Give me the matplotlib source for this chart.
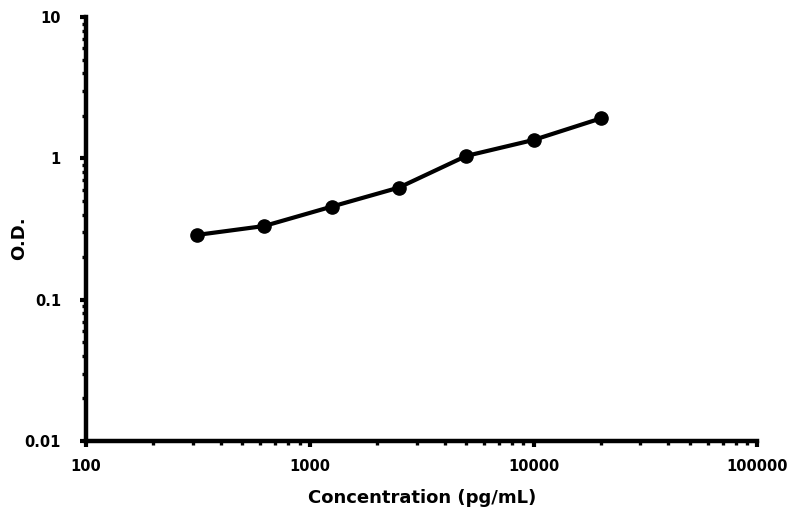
import matplotlib
matplotlib.use("Agg")
import matplotlib.pyplot as plt
from matplotlib.ticker import LogLocator, FixedLocator, NullFormatter

concentration = [312.5, 625, 1250, 2500, 5000, 10000, 20000]
od = [0.287, 0.332, 0.455, 0.621, 1.04, 1.35, 1.92]
x_ticks = [100, 1000, 10000, 100000]
x_tick_labels = ["100", "1000", "10000", "100000"]
y_ticks = [0.01, 0.1, 1, 10]
y_tick_labels = ["0.01", "0.1", "1", "10"]

plt.rcParams['font.family'] = ['DejaVu Sans']
fig = plt.figure(figsize=(7.89, 5.12), dpi=100)
ax = fig.add_axes([0.109, 0.1387, 0.851, 0.828])

ax.plot(concentration, od, color='black', lw=3, marker='o', markersize=9.5,
        solid_joinstyle='round', solid_capstyle='round', clip_on=False)

ax.set_xscale('log')
ax.set_yscale('log')
ax.set_xlim(100, 100000)
ax.set_ylim(0.01, 10)

ax.xaxis.set_major_locator(FixedLocator(x_ticks))
ax.set_xticklabels(x_tick_labels)
ax.yaxis.set_major_locator(FixedLocator(y_ticks))
ax.set_yticklabels(y_tick_labels)
ax.xaxis.set_minor_locator(LogLocator(base=10, subs=range(2, 10)))
ax.yaxis.set_minor_locator(LogLocator(base=10, subs=range(2, 10)))
ax.xaxis.set_minor_formatter(NullFormatter())
ax.yaxis.set_minor_formatter(NullFormatter())

for s in ['top', 'right']:
    ax.spines[s].set_visible(False)
for s in ['left', 'bottom']:
    ax.spines[s].set_linewidth(3.2)

ax.tick_params(axis='both', which='major', direction='out', length=4, width=3,
               labelsize=10.5)
ax.tick_params(axis='x', which='major', pad=9)
ax.tick_params(axis='y', which='major', pad=14)
ax.tick_params(axis='both', which='minor', direction='out', length=3, width=2.4)
for lab in ax.get_xticklabels() + ax.get_yticklabels():
    lab.set_fontweight('bold')

ax.set_xlabel("Concentration (pg/mL)", fontsize=13, fontweight='bold', labelpad=11)
ax.set_ylabel("O.D.", fontsize=13, fontweight='bold')
ax.yaxis.set_label_coords(-0.086, 0.479)

fig.savefig("out.png", dpi=100)
